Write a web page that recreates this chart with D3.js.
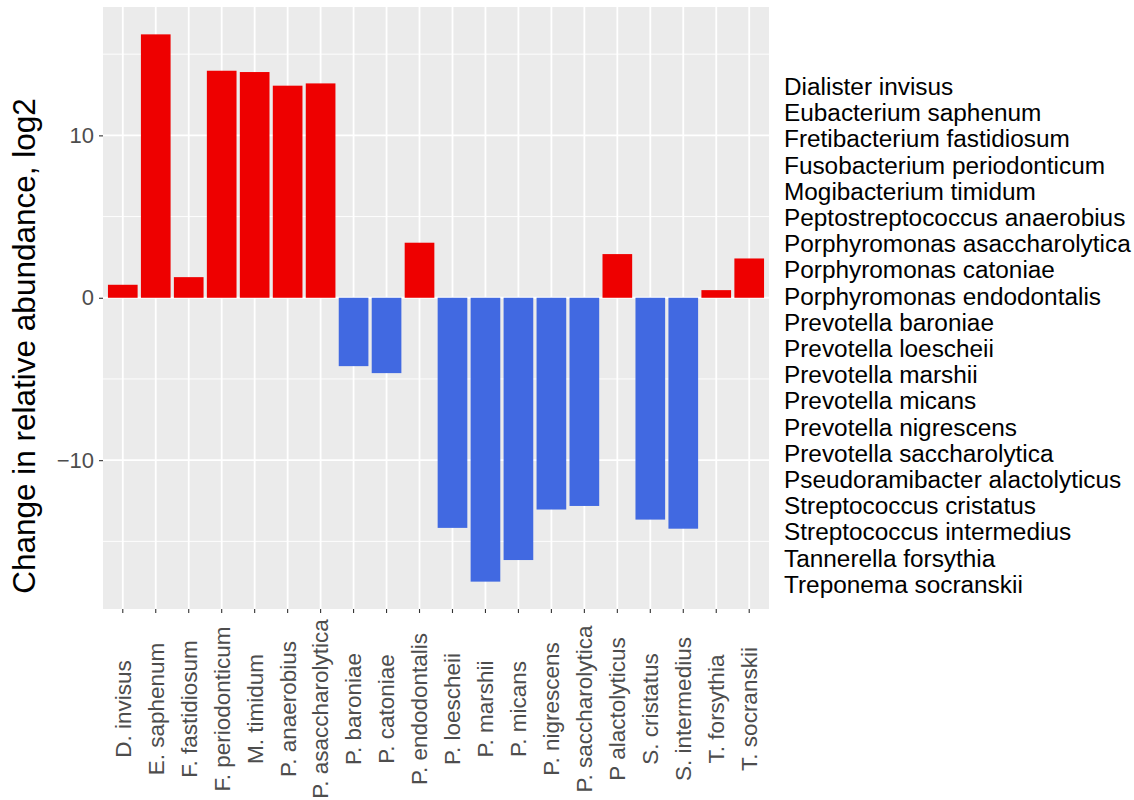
<!DOCTYPE html>
<html>
<head>
<meta charset="utf-8">
<script src="https://cdn.jsdelivr.net/npm/d3@7"></script>
<style>
  html, body { margin: 0; padding: 0; background: #ffffff; }
  svg { display: block; font-family: "Liberation Sans", Arial, Helvetica, sans-serif; }
</style>
</head>
<body>
<svg id="chart" width="1134" height="800"></svg>
<script>
// Abbreviated species names shown on the x axis
const shortNames = [
  "D. invisus", "E. saphenum", "F. fastidiosum", "F. periodonticum", "M. timidum",
  "P. anaerobius", "P. asaccharolytica", "P. baroniae", "P. catoniae", "P. endodontalis",
  "P. loescheii", "P. marshii", "P. micans", "P. nigrescens", "P. saccharolytica",
  "P alactolyticus", "S. cristatus", "S. intermedius", "T. forsythia", "T. socranskii"
];

// Full species names listed on the right
const fullNames = [
  "Dialister invisus", "Eubacterium saphenum", "Fretibacterium fastidiosum",
  "Fusobacterium periodonticum", "Mogibacterium timidum", "Peptostreptococcus anaerobius",
  "Porphyromonas asaccharolytica", "Porphyromonas catoniae", "Porphyromonas endodontalis",
  "Prevotella baroniae", "Prevotella loescheii", "Prevotella marshii", "Prevotella micans",
  "Prevotella nigrescens", "Prevotella saccharolytica", "Pseudoramibacter alactolyticus",
  "Streptococcus cristatus", "Streptococcus intermedius", "Tannerella forsythia",
  "Treponema socranskii"
];

// Change in relative abundance (log2)
const changeLog2 = [
  0.80, 16.22, 1.27, 13.98, 13.90,
  13.06, 13.20, -4.21, -4.64, 3.39,
  -14.17, -17.48, -16.15, -13.04, -12.82,
  2.69, -13.66, -14.22, 0.47, 2.42
];

const yMajorTicks = [-10, 0, 10];
const yMinorTicks = [-15, -5, 5, 15];

const colorUp = "#EE0000";
const colorDown = "#4169E1";

const svg = d3.select("#chart");
const panel = { left: 103, right: 769, top: 7, bottom: 609 };

// ggplot-style 5% expansion of the continuous range
const lo = Math.min(0, d3.min(changeLog2));
const hi = Math.max(0, d3.max(changeLog2));
const pad = 0.05 * (hi - lo);

const y = d3.scaleLinear()
  .domain([lo - pad, hi + pad])
  .range([panel.bottom, panel.top]);

const x = d3.scaleBand()
  .domain(shortNames)
  .range([panel.left, panel.right])
  .paddingInner(0.1)
  .paddingOuter(0.15);

// Panel background
svg.append("rect")
  .attr("x", panel.left).attr("y", panel.top)
  .attr("width", panel.right - panel.left)
  .attr("height", panel.bottom - panel.top)
  .attr("fill", "#EBEBEB");

const grid = svg.append("g");
grid.selectAll("line.minor")
  .data(yMinorTicks)
  .join("line")
  .attr("x1", panel.left).attr("x2", panel.right)
  .attr("y1", d => y(d)).attr("y2", d => y(d))
  .attr("stroke", "#ffffff").attr("stroke-width", 0.9);
grid.selectAll("line.major")
  .data(yMajorTicks)
  .join("line")
  .attr("x1", panel.left).attr("x2", panel.right)
  .attr("y1", d => y(d)).attr("y2", d => y(d))
  .attr("stroke", "#ffffff").attr("stroke-width", 1.8);
grid.selectAll("line.vmajor")
  .data(shortNames)
  .join("line")
  .attr("x1", d => x(d) + x.bandwidth() / 2).attr("x2", d => x(d) + x.bandwidth() / 2)
  .attr("y1", panel.top).attr("y2", panel.bottom)
  .attr("stroke", "#ffffff").attr("stroke-width", 1.8);

// Bars
svg.append("g")
  .selectAll("rect")
  .data(changeLog2.map((v, i) => ({ name: shortNames[i], value: v })))
  .join("rect")
  .attr("x", d => x(d.name))
  .attr("width", x.bandwidth())
  .attr("y", d => y(Math.max(0, d.value)))
  .attr("height", d => Math.abs(y(d.value) - y(0)))
  .attr("fill", d => d.value >= 0 ? colorUp : colorDown);

// Y axis
const yAxis = svg.append("g")
  .attr("transform", `translate(${panel.left},0)`)
  .call(d3.axisLeft(y).tickValues(yMajorTicks).tickSize(4).tickPadding(5).tickFormat(d3.format("d")));
yAxis.select(".domain").remove();
yAxis.selectAll(".tick line").attr("stroke", "#333333").attr("stroke-width", 1.1);
yAxis.selectAll(".tick text")
  .attr("fill", "#4D4D4D")
  .style("font-size", "22px")
  .style("font-family", "'Liberation Sans', Arial, sans-serif");

// X axis with vertical labels
const xAxis = svg.append("g")
  .attr("transform", `translate(0,${panel.bottom})`)
  .call(d3.axisBottom(x).tickSize(4).tickSizeOuter(0));
xAxis.select(".domain").remove();
xAxis.selectAll(".tick line").attr("stroke", "#333333").attr("stroke-width", 1.1);
xAxis.selectAll(".tick text")
  .attr("fill", "#4D4D4D")
  .style("font-size", "22.5px")
  .style("font-family", "'Liberation Sans', Arial, sans-serif")
  .attr("text-anchor", "middle")
  .attr("transform", "translate(0,100) rotate(-90)")
  .attr("x", 0).attr("y", 0)
  .attr("dy", "0.35em");

// Y axis title
svg.append("text")
  .attr("transform", "translate(35,346) rotate(-90)")
  .attr("text-anchor", "middle")
  .attr("fill", "#000000")
  .style("font-size", "31.5px")
  .text("Change in relative abundance, log2");

// Species list on the right (slightly widened glyphs)
svg.append("g")
  .attr("transform", "translate(784,0) scale(1.06,1)")
  .selectAll("text")
  .data(fullNames)
  .join("text")
  .attr("x", 0)
  .attr("y", (d, i) => 95 + i * 26.2)
  .attr("fill", "#000000")
  .style("font-size", "23px")
  .text(d => d);
</script>
</body>
</html>
